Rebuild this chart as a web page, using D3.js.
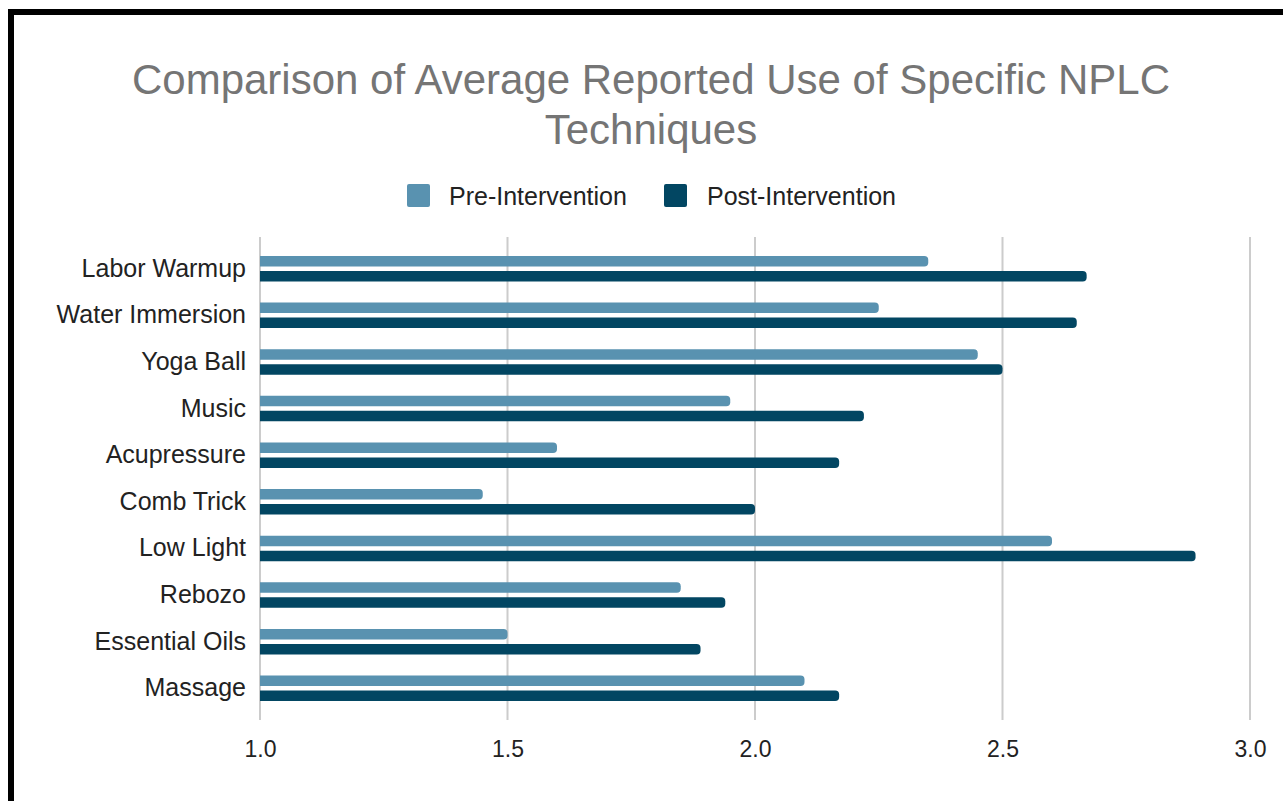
<!DOCTYPE html>
<html>
<head>
<meta charset="utf-8">
<script src="https://cdn.jsdelivr.net/npm/d3@7"></script>
<style>
  html, body { margin: 0; padding: 0; background: #fff; }
  svg { display: block; }
  svg text { font-family: "Liberation Sans", Arimo, Arial, sans-serif; }
</style>
</head>
<body>
<svg id="chart" width="1283" height="801"></svg>
<script>
const categories = ["Labor Warmup", "Water Immersion", "Yoga Ball", "Music", "Acupressure",
  "Comb Trick", "Low Light", "Rebozo", "Essential Oils", "Massage"];
const preValues  = [2.35, 2.25, 2.45, 1.95, 1.60, 1.45, 2.60, 1.85, 1.50, 2.10];
const postValues = [2.67, 2.65, 2.50, 2.22, 2.17, 2.00, 2.89, 1.94, 1.89, 2.17];
const seriesNames = ["Pre-Intervention", "Post-Intervention"];
const xTicks = [1.0, 1.5, 2.0, 2.5, 3.0];
const titleLines = ["Comparison of Average Reported Use of Specific NPLC", "Techniques"];

const colors = ["#5992b0", "#024662"];
const fontStack = '"Liberation Sans", Arimo, Arial, sans-serif';

const svg = d3.select("#chart");
const W = 1283, H = 801;

// frame (top and left black border)
svg.append("rect").attr("x", 8).attr("y", 9).attr("width", W).attr("height", 6).attr("fill", "#000");
svg.append("rect").attr("x", 8).attr("y", 9).attr("width", 6).attr("height", H).attr("fill", "#000");

// title
svg.append("g").selectAll("text").data(titleLines).join("text")
  .attr("x", 651).attr("y", (d, i) => 94 + i * 50)
  .attr("text-anchor", "middle")
  .attr("font-size", 42)
  .attr("fill", "#757575")
  .text(d => d);

// scales
const x = d3.scaleLinear().domain([1.0, 3.0]).range([260, 1250]);
const y = d3.scaleBand().domain(categories).range([237, 720]).paddingInner(0).paddingOuter(0.18);

// grid
svg.append("g").selectAll("line").data(xTicks).join("line")
  .attr("x1", d => x(d)).attr("x2", d => x(d))
  .attr("y1", 237).attr("y2", 720)
  .attr("stroke", "#cccccc").attr("stroke-width", 2);

// x axis labels
const xAxis = d3.axisBottom(x).tickValues(xTicks).tickFormat(d3.format(".1f")).tickSize(0).tickPadding(0);
const gx = svg.append("g").attr("transform", "translate(0,741)").call(xAxis);
gx.select(".domain").remove();
gx.selectAll("text").attr("font-size", 23).attr("fill", "#222").attr("dy", "0.71em")
  .style("font-family", fontStack);

// y axis labels
const yAxis = d3.axisLeft(y).tickSize(0).tickPadding(14);
const gy = svg.append("g").attr("transform", "translate(260,0)").call(yAxis);
gy.select(".domain").remove();
gy.selectAll("text").attr("font-size", 25).attr("fill", "#222")
  .style("font-family", fontStack);

// bars
const barH = 10.5, gap = 2.2, r = 4;
function barPath(x0, x1, y0, h) {
  const rr = Math.min(r, (x1 - x0) / 2, h / 2);
  return `M${x0},${y0}H${x1 - rr}A${rr},${rr} 0 0 1 ${x1},${y0 + rr}V${y0 + h - rr}A${rr},${rr} 0 0 1 ${x1 - rr},${y0 + h}H${x0}Z`;
}
const series = [preValues, postValues];
series.forEach((vals, si) => {
  svg.append("g").selectAll("path").data(categories).join("path")
    .attr("d", (c, i) => {
      const cy = y(c) + y.bandwidth() / 2;
      const y0 = si === 0 ? cy - gap - barH : cy + gap;
      return barPath(x(1.0), x(vals[i]), y0, barH);
    })
    .attr("fill", colors[si]);
});

// legend
const legendItems = [{ name: seriesNames[0], x: 407, tx: 449 }, { name: seriesNames[1], x: 664, tx: 707 }];
const lg = svg.append("g");
legendItems.forEach((it, i) => {
  lg.append("rect").attr("x", it.x).attr("y", 184).attr("width", 23).attr("height", 23)
    .attr("rx", 2).attr("fill", colors[i]);
  lg.append("text").attr("x", it.tx).attr("y", 205)
    .attr("font-size", 25).attr("fill", "#222")
    .text(it.name);
});
</script>
</body>
</html>
